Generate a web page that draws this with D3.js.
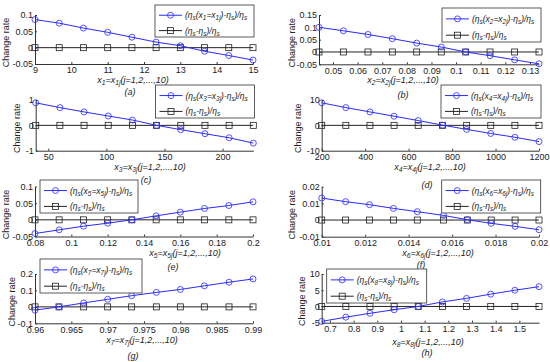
<!DOCTYPE html>
<html>
<head>
<meta charset="utf-8">
<script src="https://cdn.jsdelivr.net/npm/d3@7"></script>
<style>
  body { margin: 0; background: #fff; }
  text { font-family: "Liberation Sans", Arial, sans-serif; }
</style>
</head>
<body>
<svg id="chart" width="550" height="362"></svg>
<script>
// values, one set per sub plot (a)..(h)
var xA = [9, 9.667, 10.333, 11, 11.667, 12.333, 13, 13.667, 14.333, 15];
var rateA = [0.086, 0.075, 0.060, 0.047, 0.032, 0.017, 0.006, -0.011, -0.024, -0.038];
var xB = [0.0443, 0.0542, 0.0642, 0.0741, 0.0840, 0.0940, 0.1039, 0.1138, 0.1238, 0.1337];
var rateB = [0.1, 0.086, 0.071, 0.054, 0.036, 0.020, 0, -0.015, -0.032, -0.048];
var xC = [39.2, 60, 80.8, 101.6, 122.4, 143.2, 164, 184.8, 205.6, 226.4];
var rateC = [0.89, 0.70, 0.53, 0.37, 0.21, 0, -0.17, -0.33, -0.49, -0.70];
var xD = [200, 311, 422, 533, 644, 756, 867, 978, 1089, 1200];
var rateD = [8.9, 7.0, 5.3, 3.6, 1.9, 0.1, -1.6, -3.2, -4.7, -6.4];
var xE = [0.08, 0.0933, 0.1067, 0.12, 0.1333, 0.1467, 0.16, 0.1733, 0.1867, 0.2];
var rateE = [-0.041, -0.030, -0.019, -0.010, 0, 0.012, 0.023, 0.034, 0.043, 0.054];
var xF = [0.01, 0.0111, 0.0122, 0.0133, 0.0144, 0.0156, 0.0167, 0.0178, 0.0189, 0.02];
var rateF = [0.0132, 0.011, 0.0092, 0.007, 0.005, 0.0028, 0.0002, -0.002, -0.0038, -0.0058];
var xG = [0.96, 0.9633, 0.9667, 0.97, 0.9733, 0.9767, 0.98, 0.9833, 0.9867, 0.99];
var rateG = [-0.02, 0, 0.024, 0.046, 0.068, 0.088, 0.106, 0.128, 0.15, 0.17];
var xH = [0.665, 0.767, 0.869, 0.971, 1.073, 1.175, 1.277, 1.379, 1.481, 1.583];
var rateH = [-4.6, -3.3, -2.1, -1.0, 0, 1.4, 2.5, 3.8, 5.0, 6.1];
var baseRate = [0, 0, 0, 0, 0, 0, 0, 0, 0, 0];

var xTicksA = [9, 10, 11, 12, 13, 14, 15];
var xTicksB = [0.05, 0.06, 0.07, 0.08, 0.09, 0.1, 0.11, 0.12, 0.13];
var xTicksC = [50, 100, 150, 200];
var xTicksD = [200, 400, 600, 800, 1000, 1200];
var xTicksE = [0.08, 0.1, 0.12, 0.14, 0.16, 0.18, 0.2];
var xTicksF = [0.01, 0.012, 0.014, 0.016, 0.018, 0.02];
var xTicksG = [0.96, 0.965, 0.97, 0.975, 0.98, 0.985, 0.99];
var xTicksH = [0.7, 0.8, 0.9, 1, 1.1, 1.2, 1.3, 1.4, 1.5];

var yTicksA = [-0.05, 0, 0.05, 0.1];
var yTicksB = [-0.05, 0, 0.05, 0.1, 0.15];
var yTicksC = [-1, 0, 1];
var yTicksD = [-10, 0, 10];
var yTicksE = [-0.05, 0, 0.05, 0.1];
var yTicksF = [-0.01, 0, 0.01, 0.02];
var yTicksG = [-0.1, 0, 0.1, 0.2];
var yTicksH = [-5, 0, 5, 10];

var captions = ["(a)", "(b)", "(c)", "(d)", "(e)", "(f)", "(g)", "(h)"];
var varIndex = ["1", "2", "3", "4", "5", "6", "7", "8"];

var blue = "#2a2aff";
var dark = "#222";

var svg = d3.select("#chart");

// layout of each panel (plot box, legend box, label spots)
var panels = [
  {xs: xA, ys: rateA, xt: xTicksA, yt: yTicksA, l: 35, r: 253, t: 15, b: 64, lg: [155, 5, 99, 32], yl: 9, xl: [133, 83], cap: [130, 95]},
  {xs: xB, ys: rateB, xt: xTicksB, yt: yTicksB, l: 319, r: 539, t: 15, b: 64.3, lg: [442, 8, 99, 34], yl: 295, xl: [403, 83], cap: [403, 98]},
  {xs: xC, ys: rateC, xt: xTicksC, yt: yTicksC, l: 35.7, r: 253.3, t: 100, b: 150.7, lg: [155.5, 85, 99, 33], yl: 20, xl: [150, 170], cap: [146, 183]},
  {xs: xD, ys: rateD, xt: xTicksD, yt: yTicksD, l: 321.7, r: 539, t: 100, b: 150.7, lg: [441, 85, 100, 33], yl: 301, xl: [430, 169.5], cap: [427, 188]},
  {xs: xE, ys: rateE, xt: xTicksE, yt: yTicksE, l: 35, r: 253, t: 186.5, b: 236.5, lg: [40, 180, 98, 33], yl: 9, xl: [185, 256], cap: [173, 270]},
  {xs: xF, ys: rateF, xt: xTicksF, yt: yTicksF, l: 321.7, r: 539, t: 186.7, b: 236.7, lg: [441.7, 180, 99, 33], yl: 295, xl: [438, 256], cap: [421, 267.5]},
  {xs: xG, ys: rateG, xt: xTicksG, yt: yTicksG, l: 35, r: 253, t: 274, b: 323.3, lg: [40, 259, 102, 34], yl: 15, xl: [142, 343], cap: [133, 359]},
  {xs: xH, ys: rateH, xt: xTicksH, yt: yTicksH, l: 321.7, r: 539, t: 274, b: 322.7, lg: [326.7, 269, 100, 34], yl: 305, xl: [428, 345], cap: [427, 356]}
];

// writes text made of normal and subscript runs
function richText(sel, parts) {
  var shift = 0;
  parts.forEach(function (p) {
    var target = p[1] ? 2 : 0;
    var ts = sel.append("tspan").attr("dy", target - shift).text(p[0]);
    if (p[1]) ts.style("font-size", "0.75em");
    shift = target;
  });
}

// legends go on a top layer so captions of the row above stay beneath them
var plotLayer = svg.append("g");
var legendLayer = svg.append("g");

panels.forEach(function (p, i) {
  var g = plotLayer.append("g");
  var x = d3.scaleLinear().domain(d3.extent(p.xs)).range([p.l, p.r]);
  var y = d3.scaleLinear().domain(d3.extent(p.yt)).range([p.b, p.t]);

  var xAxis = g.append("g")
    .attr("transform", "translate(0," + p.b + ")")
    .call(d3.axisBottom(x).tickValues(p.xt).tickSize(-2).tickSizeOuter(0)
      .tickPadding(3).tickFormat(function (d) { return String(d); }));
  var yAxis = g.append("g")
    .attr("transform", "translate(" + p.l + ",0)")
    .call(d3.axisLeft(y).tickValues(p.yt).tickSize(-2).tickSizeOuter(0)
      .tickPadding(2).tickFormat(function (d) { return String(d); }));
  [xAxis, yAxis].forEach(function (a) {
    a.selectAll("path,line").attr("stroke", "#333");
    a.selectAll("text").attr("fill", "#222").style("font-size", "9px").style("font-family", "Liberation Sans, Arial, sans-serif");
  });

  var line = d3.line().x(function (d) { return x(d[0]); }).y(function (d) { return y(d[1]); });
  var base = p.xs.map(function (v, k) { return [v, baseRate[k]]; });
  var rate = p.xs.map(function (v, k) { return [v, p.ys[k]]; });

  g.append("path").datum(base).attr("d", line).attr("fill", "none").attr("stroke", dark).attr("stroke-width", 1);
  g.selectAll(".sq").data(base).enter().append("rect")
    .attr("x", function (d) { return x(d[0]) - 3; })
    .attr("y", function (d) { return y(d[1]) - 3; })
    .attr("width", 6).attr("height", 6)
    .attr("fill", "none").attr("stroke", dark).attr("stroke-width", 0.8);

  g.append("path").datum(rate).attr("d", line).attr("fill", "none").attr("stroke", blue).attr("stroke-width", 1);
  g.selectAll(".ci").data(rate).enter().append("circle")
    .attr("cx", function (d) { return x(d[0]); })
    .attr("cy", function (d) { return y(d[1]); })
    .attr("r", 3)
    .attr("fill", "none").attr("stroke", blue).attr("stroke-width", 0.8);

  // y label
  g.append("text")
    .attr("transform", "translate(" + p.yl + "," + ((p.t + p.b) / 2 + 3) + ") rotate(-90)")
    .attr("text-anchor", "middle")
    .style("font-size", "9px").attr("fill", "#222")
    .text("Change rate");

  // x label
  var n = varIndex[i];
  var xl = g.append("text")
    .attr("x", p.xl[0]).attr("y", p.xl[1])
    .attr("text-anchor", "middle")
    .style("font-size", "9px").style("font-style", "italic").attr("fill", "#222");
  richText(xl, [["x", 0], [n, 1], ["=x", 0], [n + "j", 1], ["(j=1,2,...,10)", 0]]);

  g.append("text")
    .attr("x", p.cap[0]).attr("y", p.cap[1])
    .attr("text-anchor", "middle")
    .style("font-size", "9px").style("font-style", "italic").attr("fill", "#222")
    .text(captions[i]);

  // legend
  var lg = legendLayer.append("g").attr("transform", "translate(" + p.lg[0] + "," + p.lg[1] + ")");
  lg.append("rect").attr("width", p.lg[2]).attr("height", p.lg[3])
    .attr("fill", "#fff").attr("stroke", "#333").attr("stroke-width", 0.8);
  var rows = [
    {c: blue, y: p.lg[3] * 0.32, shape: "circle",
      parts: [["(\u03b7", 0], ["s", 1], ["(x", 0], [n, 1], ["=x", 0], [n + "j", 1], [")-\u03b7", 0], ["s", 1], [")/\u03b7", 0], ["s", 1]]},
    {c: dark, y: p.lg[3] * 0.8, shape: "rect",
      parts: [["(\u03b7", 0], ["s", 1], ["-\u03b7", 0], ["s", 1], [")/\u03b7", 0], ["s", 1]]}
  ];
  rows.forEach(function (row) {
    lg.append("line").attr("x1", 4).attr("x2", 27).attr("y1", row.y).attr("y2", row.y)
      .attr("stroke", row.c).attr("stroke-width", 1);
    if (row.shape === "circle") {
      lg.append("circle").attr("cx", 15.5).attr("cy", row.y).attr("r", 3)
        .attr("fill", "none").attr("stroke", row.c).attr("stroke-width", 0.8);
    } else {
      lg.append("rect").attr("x", 12.5).attr("y", row.y - 3).attr("width", 6).attr("height", 6)
        .attr("fill", "none").attr("stroke", row.c).attr("stroke-width", 0.8);
    }
    var t = lg.append("text").attr("x", 30).attr("y", row.y + 3)
      .style("font-size", "8.5px").style("font-style", "italic").attr("fill", "#222");
    richText(t, row.parts);
  });
});
</script>
</body>
</html>
